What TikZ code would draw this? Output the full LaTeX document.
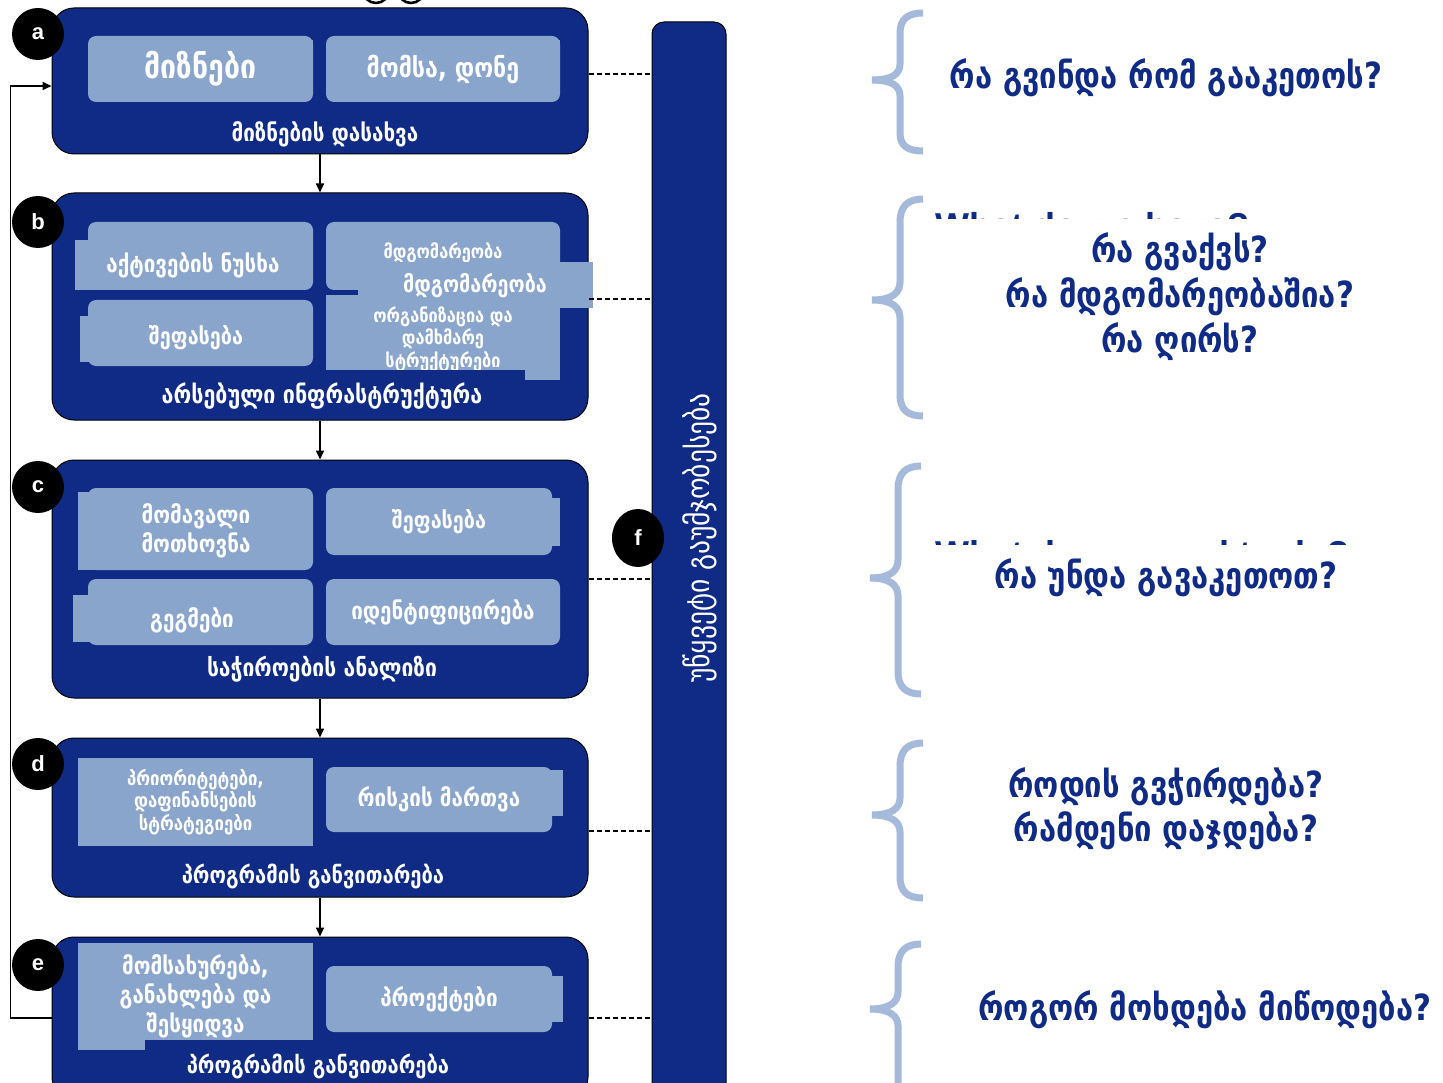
\documentclass[tikz,border=0pt]{standalone}
\usepackage{fontspec}
\setmainfont[FakeStretch=0.86]{DejaVu Sans}
\newfontfamily\arialf{Liberation Sans}
\usetikzlibrary{arrows.meta,shapes.geometric}
\definecolor{dblue}{RGB}{15,43,133}
\definecolor{lblue}{RGB}{138,165,203}
\definecolor{bracec}{RGB}{165,185,219}
\newcommand{\fs}[2]{\bfseries\fontsize{#1}{#2}\selectfont}
\tikzset{
  bigbox/.style={draw=black, line width=1pt, fill=dblue, rounded corners=22pt, minimum width=536pt},
  inbox/.style={fill=lblue, rounded corners=8pt, text=white, align=center, inner sep=2pt, font=\fs{24}{29}},
  intext/.style={text=white, align=center, inner sep=1pt, font=\fs{24}{29}},
  patch/.style={fill=lblue},
  boxlab/.style={text=white, fill=dblue, inner sep=4pt, font=\fs{24}{28}},
  badge/.style={circle, fill=black, minimum size=52pt, inner sep=0pt, text=white, font=\arialf\bfseries\fontsize{22}{22}\selectfont},
  arr/.style={-{Triangle[length=9pt,width=8pt]}, line width=1.6pt},
  dashline/.style={dashed, dash pattern=on 5pt off 3pt, line width=1.6pt},
  bracepath/.style={draw=bracec, line width=7pt},
  question/.style={text=dblue, align=center, font=\fs{36}{45}}
}
\begin{document}
\begin{tikzpicture}[x=1pt,y=-1pt]
\useasboundingbox (0,0) rectangle (1443,1083);
\fill[white] (0,0) rectangle (1443,1083);

% top remnant
\begin{scope}
\clip (340,0) rectangle (450,8);
\draw[line width=2.6pt] (376,-10) circle[radius=13];
\draw[line width=2.6pt] (411,-10) circle[radius=13];
\end{scope}

% side bar
\node[draw=black, line width=1pt, fill=dblue, rounded corners=12pt, minimum width=74pt, minimum height=1090pt] (F) at (689,567) {};
\node[rotate=90, text=white, font=\fontsize{32}{34}\selectfont] (Ftext) at (700,538) {უწყვეტი გაუმჯობესება};

% main boxes
\node[bigbox, minimum height=146pt] (A) at (320,81) {};
\node[bigbox, minimum height=227pt] (B) at (320,306.5) {};
\node[bigbox, minimum height=238pt] (C) at (320,579) {};
\node[bigbox, minimum height=159pt] (D) at (320,817.5) {};
\node[bigbox, minimum height=162pt] (E) at (320,1018) {};

% box a
\node[inbox, minimum width=225pt, minimum height=66pt, font=\fs{33}{36}] (a1) at (200.5,69) {მიზნები};
\fill[patch] (300,40) rectangle (313,90);
\node[inbox, minimum width=234pt, minimum height=66pt, font=\fs{27}{30}] (a2) at (443,69) {მომსა, დონე};
\fill[patch] (540,40) rectangle (560,92);
\node[boxlab, minimum width=230pt] (alab) at (325,134) {მიზნების დასახვა};

% box b
\node[inbox, minimum width=225pt, minimum height=68pt] (b1) at (200.5,256) {};
\fill[patch] (75,240) rectangle (200,290);
\node[intext] (b1t) at (193,265) {აქტივების ნუსხა};
\node[inbox, minimum width=225pt, minimum height=66pt] (b2) at (200.5,333) {};
\fill[patch] (80,316) rectangle (200,362);
\node[intext, font=\fs{23}{28}] (b2t) at (196,338) {შეფასება};
\node[inbox, minimum width=234pt, minimum height=68pt] (b3) at (443,256) {};
\fill[patch] (326,295) rectangle (560,370);
\fill[patch] (525,340) rectangle (560,380);
\node[intext, font=\fs{19}{22}] (b3t) at (443,253) {მდგომარეობა};
\fill[patch] (358,262) rectangle (593,308);
\node[intext, font=\fs{23}{28}] (b3o) at (475,286) {მდგომარეობა};
\begin{scope}
\clip (326,300) rectangle (560,369);
\node[intext, font=\fs{19}{22.5}] (b4) at (443,339) {ორგანიზაცია და\\დამხმარე\\სტრუქტურები};
\end{scope}
\node[boxlab, font=\fs{25}{28}] (blab) at (322,396) {არსებული ინფრასტრუქტურა};

% box c
\node[inbox, minimum width=225pt, minimum height=82pt] (c1) at (200.5,529) {};
\fill[patch] (78,492) rectangle (200,570);
\node[intext] (c1t) at (196,531) {მომავალი\\მოთხოვნა};
\node[inbox, minimum width=226pt, minimum height=67pt, font=\fs{23}{28}] (c2) at (439,521.5) {შეფასება};
\fill[patch] (540,498) rectangle (560,546);
\node[inbox, minimum width=225pt, minimum height=66pt] (c3) at (200.5,612) {};
\fill[patch] (73,595) rectangle (200,642);
\node[intext] (c3t) at (192,620) {გეგმები};
\node[inbox, minimum width=234pt, minimum height=66pt] (c4) at (443,612) {იდენტიფიცირება};
\node[boxlab, font=\fs{24.5}{28}] (clab) at (322,669) {საჭიროების ანალიზი};

% box d
\fill[patch] (78,758) rectangle (313,846);
\node[intext, font=\fs{19.5}{22.5}] (d1) at (195.5,802) {პრიორიტეტები,\\დაფინანსების\\სტრატეგიები};
\node[inbox, minimum width=226pt, minimum height=65pt] (d2) at (439,799.5) {რისკის მართვა};
\fill[patch] (540,770) rectangle (563,816);
\node[boxlab, minimum width=350pt, font=\fs{23.5}{28}] (dlab) at (313,876) {პროგრამის განვითარება};

% box e
\fill[patch] (78,943) rectangle (313,1040);
\fill[patch] (78,1030) rectangle (145,1050);
\node[intext] (e1) at (195.5,996) {მომსახურება,\\განახლება და\\შესყიდვა};
\node[inbox, minimum width=226pt, minimum height=66pt] (e2) at (439,999) {პროექტები};
\fill[patch] (540,976) rectangle (563,1022);
\node[intext, font=\fs{23.5}{28}] (elab) at (318,1066) {პროგრამის განვითარება};

% arrows between boxes
\draw[arr] (A.south) -- (B.north);
\draw[arr] (B.south) -- (C.north);
\draw[arr] (C.south) -- (D.north);
\draw[arr] (D.south) -- (E.north);
\draw[arr] (E.west) -- ++(-41,0) |- ([yshift=-5pt]A.west);

% dashed connectors to the bar
\draw[dashline] ([yshift=7pt]A.east) -- ([yshift=7pt]A.east -| F.west);
\draw[dashline] ([yshift=7.5pt]B.east) -- ([yshift=7.5pt]B.east -| F.west);
\draw[dashline] (C.east) -- (C.east -| F.west);
\draw[dashline] ([yshift=-13.5pt]D.east) -- ([yshift=-13.5pt]D.east -| F.west);
\draw[dashline] (E.west -| E.east) -- (E.west -| F.west);

% badges
\node[badge] (ba) at (38,34) {a};
\node[badge] (bb) at (38,222) {b};
\node[badge] (bc) at (38,487) {c};
\node[badge] (bd) at (38,764) {d};
\node[badge] (be) at (38,965) {e};
\node[badge, ellipse, minimum width=52pt, minimum height=58pt] (bf) at (638,538) {f};

% braces
\draw[bracepath] (923,13) .. controls (908,13) and (900,19) .. (900,33) -- (900,64) .. controls (900,74) and (892,80) .. (872,80) .. controls (892,80) and (900,86) .. (900,96) -- (900,133) .. controls (900,146) and (908,151) .. (923,151);
\draw[bracepath] (923,199) .. controls (908,199) and (900,206) .. (900,222) -- (900,282) .. controls (900,293) and (892,300) .. (872,300) .. controls (892,300) and (900,307) .. (900,318) -- (900,395) .. controls (900,410) and (908,416) .. (923,416);
\draw[bracepath] (921,466) .. controls (906,466) and (898,473) .. (898,489) -- (898,560) .. controls (898,571) and (890,578) .. (870,578) .. controls (890,578) and (898,585) .. (898,596) -- (898,672) .. controls (898,687) and (906,694) .. (921,694);
\draw[bracepath] (923,743) .. controls (908,743) and (900,750) .. (900,766) -- (900,798) .. controls (900,808) and (892,815) .. (872,815) .. controls (892,815) and (900,822) .. (900,832) -- (900,877) .. controls (900,892) and (908,898) .. (923,898);
\draw[bracepath] (921,944) .. controls (906,944) and (898,951) .. (898,967) -- (898,992) .. controls (898,1002) and (890,1009) .. (870,1009) .. controls (890,1009) and (898,1016) .. (898,1026) -- (898,1083);

% clipped remnants
\begin{scope}
\clip (930,212) rectangle (1300,219);
\node[anchor=north west, text=dblue, inner sep=0pt, font=\arialf\bfseries\fontsize{36}{36}\selectfont] (rem1) at (935,212) {What do we have?};
\end{scope}
\begin{scope}
\clip (930,540) rectangle (1420,544);
\node[anchor=north west, text=dblue, inner sep=0pt, font=\arialf\bfseries\fontsize{36}{36}\selectfont] (rem2) at (935,540) {What do we need to do?};
\end{scope}

% questions
\node[question] (q1) at (1166,78) {რა გვინდა რომ გააკეთოს?};
\node[question] (q2) at (1180,297) {რა გვაქვს?\\რა მდგომარეობაშია?\\რა ღირს?};
\node[question] (q3) at (1166,578) {რა უნდა გავაკეთოთ?};
\node[question, font=\fs{36}{44}] (q4) at (1166,809) {როდის გვჭირდება?\\რამდენი დაჯდება?};
\node[question] (q5) at (1205,1010) {როგორ მოხდება მიწოდება?};
\end{tikzpicture}
\end{document}
